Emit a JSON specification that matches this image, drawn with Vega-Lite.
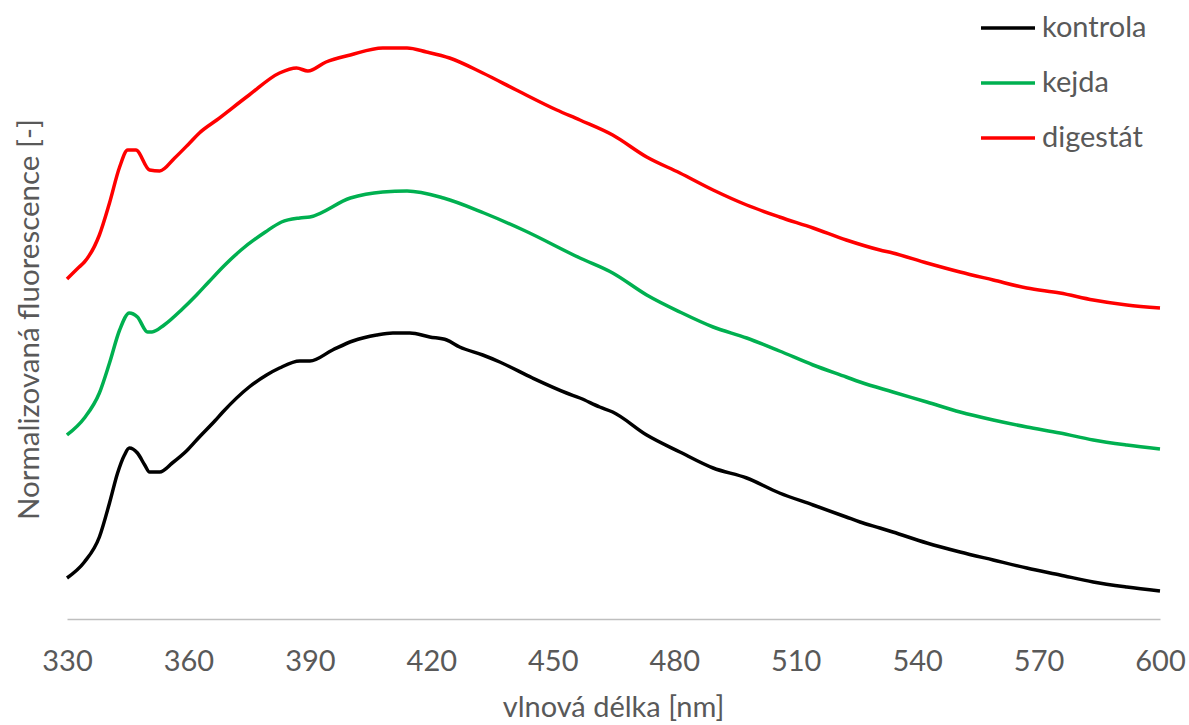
{
  "$schema": "https://vega.github.io/schema/vega-lite/v6.json",
  "width": 1093,
  "height": 600,
  "autosize": {"type": "none"},
  "padding": {"left": 67, "top": 19, "right": 29, "bottom": 106},
  "background": "white",
  "config": {"view": {"stroke": null}, "font": "Lato"},
  "data": {"values": [
    {"serie": "kontrola", "nm": 330, "v": 41},
    {"serie": "kontrola", "nm": 334.3, "v": 57},
    {"serie": "kontrola", "nm": 338, "v": 82},
    {"serie": "kontrola", "nm": 340.5, "v": 116},
    {"serie": "kontrola", "nm": 342.5, "v": 146},
    {"serie": "kontrola", "nm": 344.2, "v": 164},
    {"serie": "kontrola", "nm": 345.4, "v": 171},
    {"serie": "kontrola", "nm": 347.4, "v": 166},
    {"serie": "kontrola", "nm": 349.2, "v": 154},
    {"serie": "kontrola", "nm": 350.4, "v": 147},
    {"serie": "kontrola", "nm": 352.9, "v": 147},
    {"serie": "kontrola", "nm": 356, "v": 156},
    {"serie": "kontrola", "nm": 359.5, "v": 168},
    {"serie": "kontrola", "nm": 362.7, "v": 182},
    {"serie": "kontrola", "nm": 366.5, "v": 198},
    {"serie": "kontrola", "nm": 368.5, "v": 207},
    {"serie": "kontrola", "nm": 375, "v": 232},
    {"serie": "kontrola", "nm": 379.3, "v": 244},
    {"serie": "kontrola", "nm": 382.5, "v": 251},
    {"serie": "kontrola", "nm": 387.5, "v": 258},
    {"serie": "kontrola", "nm": 390, "v": 258},
    {"serie": "kontrola", "nm": 395.6, "v": 269},
    {"serie": "kontrola", "nm": 400.6, "v": 278},
    {"serie": "kontrola", "nm": 406.5, "v": 284},
    {"serie": "kontrola", "nm": 410.5, "v": 286},
    {"serie": "kontrola", "nm": 414.7, "v": 286},
    {"serie": "kontrola", "nm": 419.6, "v": 282},
    {"serie": "kontrola", "nm": 423.8, "v": 279},
    {"serie": "kontrola", "nm": 427, "v": 272},
    {"serie": "kontrola", "nm": 432.7, "v": 264},
    {"serie": "kontrola", "nm": 436.9, "v": 257},
    {"serie": "kontrola", "nm": 445, "v": 241},
    {"serie": "kontrola", "nm": 453.4, "v": 226},
    {"serie": "kontrola", "nm": 456.7, "v": 221},
    {"serie": "kontrola", "nm": 461.6, "v": 212},
    {"serie": "kontrola", "nm": 464.8, "v": 207},
    {"serie": "kontrola", "nm": 473.2, "v": 184},
    {"serie": "kontrola", "nm": 481.4, "v": 167},
    {"serie": "kontrola", "nm": 489.6, "v": 151},
    {"serie": "kontrola", "nm": 497.9, "v": 141},
    {"serie": "kontrola", "nm": 506, "v": 126},
    {"serie": "kontrola", "nm": 514.3, "v": 114},
    {"serie": "kontrola", "nm": 522.5, "v": 102},
    {"serie": "kontrola", "nm": 525.9, "v": 97},
    {"serie": "kontrola", "nm": 530.8, "v": 91},
    {"serie": "kontrola", "nm": 534, "v": 87},
    {"serie": "kontrola", "nm": 542.4, "v": 76},
    {"serie": "kontrola", "nm": 550.6, "v": 67},
    {"serie": "kontrola", "nm": 558.8, "v": 59},
    {"serie": "kontrola", "nm": 567.1, "v": 51},
    {"serie": "kontrola", "nm": 575.3, "v": 44},
    {"serie": "kontrola", "nm": 583.5, "v": 37},
    {"serie": "kontrola", "nm": 591.8, "v": 32},
    {"serie": "kontrola", "nm": 600, "v": 28},

    {"serie": "kejda", "nm": 330, "v": 184},
    {"serie": "kejda", "nm": 334.3, "v": 201},
    {"serie": "kejda", "nm": 338, "v": 226},
    {"serie": "kejda", "nm": 340.5, "v": 256},
    {"serie": "kejda", "nm": 343, "v": 289},
    {"serie": "kejda", "nm": 345.4, "v": 306},
    {"serie": "kejda", "nm": 347.4, "v": 302},
    {"serie": "kejda", "nm": 349.9, "v": 287},
    {"serie": "kejda", "nm": 351, "v": 287},
    {"serie": "kejda", "nm": 354, "v": 294},
    {"serie": "kejda", "nm": 358.5, "v": 310},
    {"serie": "kejda", "nm": 362, "v": 324},
    {"serie": "kejda", "nm": 365, "v": 337},
    {"serie": "kejda", "nm": 369, "v": 354},
    {"serie": "kejda", "nm": 373, "v": 369},
    {"serie": "kejda", "nm": 379, "v": 387},
    {"serie": "kejda", "nm": 383, "v": 397},
    {"serie": "kejda", "nm": 387.5, "v": 401},
    {"serie": "kejda", "nm": 390, "v": 402},
    {"serie": "kejda", "nm": 400, "v": 421},
    {"serie": "kejda", "nm": 408, "v": 427},
    {"serie": "kejda", "nm": 414, "v": 428},
    {"serie": "kejda", "nm": 423, "v": 421},
    {"serie": "kejda", "nm": 433, "v": 406},
    {"serie": "kejda", "nm": 442.7, "v": 389},
    {"serie": "kejda", "nm": 456.7, "v": 361},
    {"serie": "kejda", "nm": 464.8, "v": 346},
    {"serie": "kejda", "nm": 473.2, "v": 324},
    {"serie": "kejda", "nm": 481.4, "v": 307},
    {"serie": "kejda", "nm": 489.6, "v": 292},
    {"serie": "kejda", "nm": 497.9, "v": 281},
    {"serie": "kejda", "nm": 506, "v": 268},
    {"serie": "kejda", "nm": 514.3, "v": 254},
    {"serie": "kejda", "nm": 522.5, "v": 242},
    {"serie": "kejda", "nm": 525.9, "v": 237},
    {"serie": "kejda", "nm": 534, "v": 227},
    {"serie": "kejda", "nm": 542.4, "v": 217},
    {"serie": "kejda", "nm": 550.6, "v": 207},
    {"serie": "kejda", "nm": 558.8, "v": 199},
    {"serie": "kejda", "nm": 567.1, "v": 192},
    {"serie": "kejda", "nm": 575.3, "v": 186},
    {"serie": "kejda", "nm": 583.5, "v": 179},
    {"serie": "kejda", "nm": 591.8, "v": 174},
    {"serie": "kejda", "nm": 600, "v": 170},

    {"serie": "digestát", "nm": 330, "v": 340},
    {"serie": "digestát", "nm": 333, "v": 352},
    {"serie": "digestát", "nm": 334.3, "v": 357},
    {"serie": "digestát", "nm": 338, "v": 384},
    {"serie": "digestát", "nm": 340.5, "v": 416},
    {"serie": "digestát", "nm": 343, "v": 452},
    {"serie": "digestát", "nm": 345, "v": 469},
    {"serie": "digestát", "nm": 347, "v": 469},
    {"serie": "digestát", "nm": 350.4, "v": 449},
    {"serie": "digestát", "nm": 352.9, "v": 448},
    {"serie": "digestát", "nm": 356.6, "v": 461},
    {"serie": "digestát", "nm": 360.3, "v": 476},
    {"serie": "digestát", "nm": 362.7, "v": 486},
    {"serie": "digestát", "nm": 367, "v": 499},
    {"serie": "digestát", "nm": 375, "v": 524},
    {"serie": "digestát", "nm": 382.5, "v": 546},
    {"serie": "digestát", "nm": 386.7, "v": 551},
    {"serie": "digestát", "nm": 389.5, "v": 548},
    {"serie": "digestát", "nm": 394, "v": 557},
    {"serie": "digestát", "nm": 400, "v": 564},
    {"serie": "digestát", "nm": 408, "v": 571},
    {"serie": "digestát", "nm": 414, "v": 571},
    {"serie": "digestát", "nm": 418.8, "v": 567},
    {"serie": "digestát", "nm": 424.5, "v": 561},
    {"serie": "digestát", "nm": 432.7, "v": 546},
    {"serie": "digestát", "nm": 441, "v": 529},
    {"serie": "digestát", "nm": 451, "v": 509},
    {"serie": "digestát", "nm": 456.7, "v": 499},
    {"serie": "digestát", "nm": 464.8, "v": 484},
    {"serie": "digestát", "nm": 473.2, "v": 462},
    {"serie": "digestát", "nm": 481.4, "v": 446},
    {"serie": "digestát", "nm": 489.6, "v": 429},
    {"serie": "digestát", "nm": 497.9, "v": 414},
    {"serie": "digestát", "nm": 506, "v": 402},
    {"serie": "digestát", "nm": 514.3, "v": 391},
    {"serie": "digestát", "nm": 522.5, "v": 379},
    {"serie": "digestát", "nm": 530.8, "v": 369},
    {"serie": "digestát", "nm": 534, "v": 366},
    {"serie": "digestát", "nm": 542.4, "v": 356},
    {"serie": "digestát", "nm": 550.6, "v": 347},
    {"serie": "digestát", "nm": 558.8, "v": 339},
    {"serie": "digestát", "nm": 567.1, "v": 331},
    {"serie": "digestát", "nm": 575.3, "v": 326},
    {"serie": "digestát", "nm": 583.5, "v": 319},
    {"serie": "digestát", "nm": 591.8, "v": 314},
    {"serie": "digestát", "nm": 600, "v": 311}
  ]},
  "mark": {"type": "line", "strokeWidth": 3.5, "interpolate": "monotone"},
  "encoding": {
    "x": {
      "field": "nm", "type": "quantitative",
      "scale": {"domain": [330, 600], "nice": false, "zero": false},
      "axis": {
        "values": [330, 360, 390, 420, 450, 480, 510, 540, 570, 600],
        "grid": false, "ticks": false, "tickSize": 0,
        "domainColor": "#bfbfbf", "domainWidth": 1.5,
        "labelFontSize": 29, "labelColor": "#595959", "labelBaseline": "alphabetic",
        "labelPadding": 51, "labelFlush": false,
        "title": "vlnová délka [nm]", "titleFontSize": 29, "titleColor": "#595959",
        "titleFontWeight": "normal", "titleBaseline": "alphabetic", "titleX": 546, "titleY": 97
      }
    },
    "y": {
      "field": "v", "type": "quantitative",
      "scale": {"domain": [0, 600], "nice": false},
      "axis": {
        "domain": false, "ticks": false, "labels": false, "grid": false,
        "title": "Normalizovaná fluorescence [-]", "titleFontSize": 29.5, "titleColor": "#595959",
        "titleFontWeight": "normal", "titleBaseline": "alphabetic", "titleAngle": -90,
        "titleX": -29, "titleY": 300
      }
    },
    "color": {
      "field": "serie", "type": "nominal",
      "scale": {"domain": ["kontrola", "kejda", "digestát"], "range": ["#000000", "#00B050", "#FF0000"]},
      "legend": {
        "title": null, "orient": "none", "legendX": 912, "legendY": -20,
        "padding": 0, "symbolType": "stroke", "symbolSize": 2916, "symbolStrokeWidth": 3.5,
        "labelFontSize": 29, "labelColor": "#595959", "labelOffset": 5, "rowPadding": 11
      }
    }
  }
}
